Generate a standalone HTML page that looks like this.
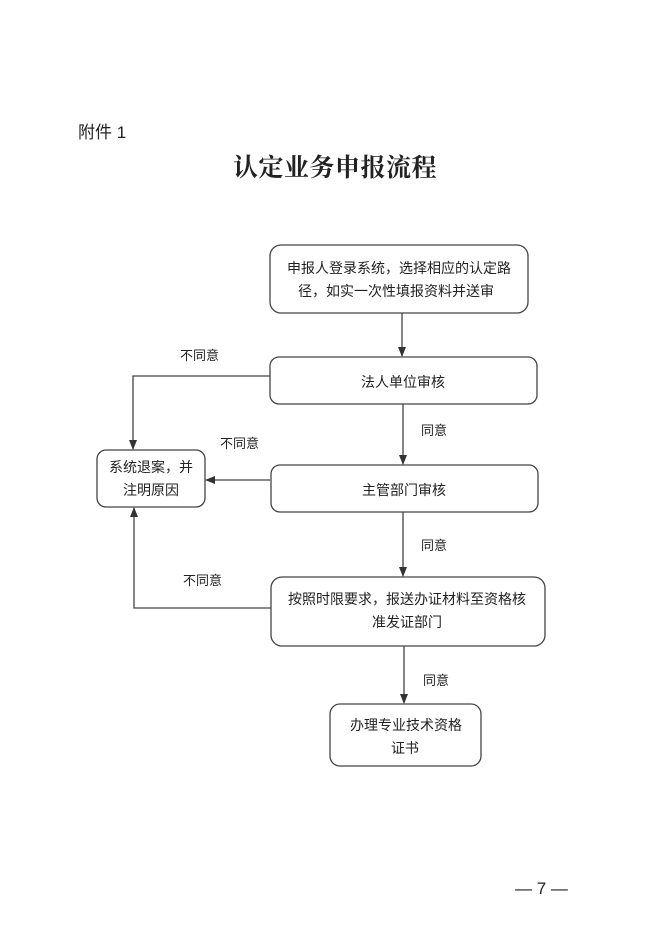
<!DOCTYPE html>
<html><head><meta charset="utf-8"><style>
html,body{margin:0;padding:0;background:#fff;}
svg{display:block;}
text{font-family:"Liberation Sans","Noto Sans CJK SC",sans-serif;fill:#222;}
.t{font-family:"Liberation Serif","Noto Serif CJK SC",serif;font-weight:bold;}
</style></head><body>
<svg width="669" height="928" viewBox="0 0 669 928" xmlns="http://www.w3.org/2000/svg">
<defs><marker id="a" markerWidth="10" markerHeight="10" refX="9" refY="5" orient="auto" markerUnits="userSpaceOnUse"><path d="M0,1 L10,5 L0,9 z" fill="#333"/></marker></defs>
<text x="78" y="138" font-size="17">附件 1</text>
<text class="t" x="335" y="176" font-size="25" text-anchor="middle" letter-spacing="0.5">认定业务申报流程</text>
<g fill="none" stroke="#444" stroke-width="1.3">
<rect x="270" y="245" width="258" height="68" rx="11"/>
<rect x="270" y="357" width="267" height="47" rx="9"/>
<rect x="271" y="465" width="267" height="47" rx="9"/>
<rect x="271" y="577" width="274" height="69" rx="11"/>
<rect x="330" y="704" width="151" height="62" rx="10"/>
<rect x="97" y="450" width="108" height="57" rx="9"/>
<line x1="402" y1="313" x2="402" y2="356" marker-end="url(#a)"/>
<line x1="403" y1="404" x2="403" y2="464" marker-end="url(#a)"/>
<line x1="403" y1="512" x2="403" y2="576" marker-end="url(#a)"/>
<line x1="404" y1="646" x2="404" y2="703" marker-end="url(#a)"/>
<polyline points="270,376 133,376 133,449" marker-end="url(#a)"/>
<line x1="270" y1="480" x2="206" y2="480" marker-end="url(#a)"/>
<polyline points="271,608 134,608 134,508" marker-end="url(#a)"/>
</g>
<g font-size="14" text-anchor="middle">
<text x="399" y="273">申报人登录系统，选择相应的认定路</text>
<text x="396" y="296">径，如实一次性填报资料并送审</text>
<text x="403" y="387">法人单位审核</text>
<text x="404" y="495">主管部门审核</text>
<text x="407" y="604">按照时限要求，报送办证材料至资格核</text>
<text x="407" y="627">准发证部门</text>
<text x="406" y="730">办理专业技术资格</text>
<text x="405" y="753">证书</text>
<text x="151" y="472">系统退案，并</text>
<text x="151" y="495">注明原因</text>
</g>
<g font-size="13">
<text x="180" y="360">不同意</text>
<text x="220" y="448">不同意</text>
<text x="421" y="435">同意</text>
<text x="421" y="550">同意</text>
<text x="183" y="585">不同意</text>
<text x="423" y="685">同意</text>
</g>
<text x="515" y="894" font-size="17">— 7 —</text>
</svg>
</body></html>
